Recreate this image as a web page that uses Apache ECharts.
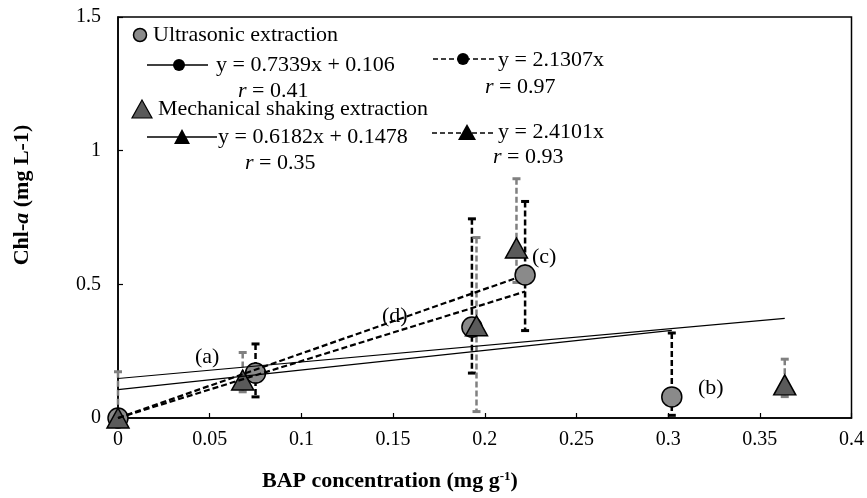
<!DOCTYPE html>
<html>
<head>
<meta charset="utf-8">
<script src="https://cdn.jsdelivr.net/npm/echarts@6/dist/echarts.min.js"></script>
<style>html,body{margin:0;padding:0;background:#fff}#c{width:867px;height:498px}</style>
</head>
<body>
<div id="c"></div>
<script>
// ---- data ----
const xTicks = [0, 0.05, 0.1, 0.15, 0.2, 0.25, 0.3, 0.35, 0.4];
const yTicks = [0, 0.5, 1, 1.5];

const ultraX  = [0, 0.075, 0.193, 0.222, 0.302];
const ultraY  = [0, 0.168, 0.340, 0.535, 0.079];
const ultraHi = [0, 0.277, 0.745, 0.810, 0.318];
const ultraLo = [0, 0.079, 0.168, 0.327, 0.010];

const mechX  = [0, 0.068, 0.1955, 0.2173, 0.3636];
const mechY  = [0, 0.142, 0.345, 0.636, 0.124];
const mechHi = [0.173, 0.245, 0.675, 0.895, 0.220];
const mechLo = [0, 0.098, 0.024, 0.507, 0.080];

// trend lines (endpoints)
const ultraLinX = [0, 0.302];   const ultraLinY = [0.106, 0.328];
const mechLinX  = [0, 0.3636];  const mechLinY  = [0.1478, 0.373];
const ultraPropX = [0, 0.222];  const ultraPropY = [0, 0.473];
const mechPropX  = [0, 0.2173]; const mechPropY  = [0, 0.524];

const FONT = "'Times New Roman', 'Liberation Serif', serif";
const zip = (a, b) => a.map((v, i) => [v, b[i]]);
const zip3 = (a, b, c) => a.map((v, i) => [v, b[i], c[i]]);

function errBar(color) {
  return function (params, api) {
    const x = api.value(0), lo = api.value(1), hi = api.value(2);
    if (hi === lo) return null;
    const pH = api.coord([x, hi]), pL = api.coord([x, lo]);
    return {
      type: 'group',
      children: [
        {type: 'line', shape: {x1: pH[0], y1: pH[1], x2: pL[0], y2: pL[1]},
         style: {stroke: color, lineWidth: 2.5, lineDash: [6, 3]}},
        {type: 'line', shape: {x1: pH[0] - 4, y1: pH[1], x2: pH[0] + 4, y2: pH[1]},
         style: {stroke: color, lineWidth: 3}},
        {type: 'line', shape: {x1: pL[0] - 4, y1: pL[1], x2: pL[0] + 4, y2: pL[1]},
         style: {stroke: color, lineWidth: 3}}
      ]
    };
  };
}

const chart = echarts.init(document.getElementById('c'), null, {renderer: 'canvas'});

const txt = (text, x, y, extra) => Object.assign({
  type: 'text', x: x, y: y, z: 100,
  style: Object.assign({text: text, font: '22px ' + FONT, fill: '#000', textVerticalAlign: 'middle',
    rich: {i: {fontStyle: 'italic', fontSize: 22, fontFamily: FONT}, n: {fontSize: 22, fontFamily: FONT}}}, extra || {})
});

const graphics = [
  // legend block
  {type: 'circle', z: 100, shape: {cx: 140, cy: 35, r: 6.5}, style: {fill: '#8a8a8a', stroke: '#000', lineWidth: 1.5}},
  txt('Ultrasonic extraction', 153, 35),
  {type: 'line', z: 100, shape: {x1: 147, y1: 65, x2: 208, y2: 65}, style: {stroke: '#000', lineWidth: 1.3}},
  {type: 'circle', z: 100, shape: {cx: 179, cy: 65, r: 6}, style: {fill: '#000'}},
  txt('y = 0.7339x + 0.106', 216, 65),
  txt('{i|r}{n| = 0.41}', 238, 91),
  {type: 'line', z: 100, shape: {x1: 433, y1: 59, x2: 496, y2: 59}, style: {stroke: '#000', lineWidth: 1.5, lineDash: [5, 3]}},
  {type: 'circle', z: 100, shape: {cx: 463, cy: 59, r: 6}, style: {fill: '#000'}},
  txt('y = 2.1307x', 498, 60),
  txt('{i|r}{n| = 0.97}', 485, 87),
  {type: 'polygon', z: 100, shape: {points: [[142, 100], [152, 118], [132, 118]]}, style: {fill: '#5a5a5a', stroke: '#000', lineWidth: 1.2}},
  txt('Mechanical shaking extraction', 158, 109),
  {type: 'line', z: 100, shape: {x1: 147, y1: 137, x2: 217, y2: 137}, style: {stroke: '#000', lineWidth: 1.3}},
  {type: 'polygon', z: 100, shape: {points: [[182, 129], [190, 144], [174, 144]]}, style: {fill: '#000'}},
  txt('y = 0.6182x + 0.1478', 218, 137),
  txt('{i|r}{n| = 0.35}', 245, 163),
  {type: 'line', z: 100, shape: {x1: 432, y1: 133, x2: 495, y2: 133}, style: {stroke: '#000', lineWidth: 1.5, lineDash: [5, 3]}},
  {type: 'polygon', z: 100, shape: {points: [[467, 124], [476, 140], [458, 140]]}, style: {fill: '#000'}},
  txt('y = 2.4101x', 498, 132),
  txt('{i|r}{n| = 0.93}', 493, 157),
  // point labels
  txt('(a)', 195, 357),
  txt('(b)', 698, 388),
  txt('(c)', 532, 257),
  txt('(d)', 382, 316),
  // axis titles
  {type: 'text', z: 100, x: 22, y: 195, rotation: Math.PI / 2,
   style: {text: 'Chl-{ib|a} (mg L-1)', font: 'bold 22px ' + FONT, fill: '#000', textAlign: 'center', textVerticalAlign: 'middle',
     rich: {ib: {fontStyle: 'italic', fontWeight: 'bold', fontSize: 22, fontFamily: FONT}}}},
  {type: 'text', z: 100, x: 262, y: 481,
   style: {text: 'BAP concentration (mg g{sup|-1})', font: 'bold 22px ' + FONT, fill: '#000', textAlign: 'left', textVerticalAlign: 'middle',
     rich: {sup: {fontWeight: 'bold', fontSize: 13, fontFamily: FONT, verticalAlign: 'top', padding: [0, 0, 9, 0]}}}}
];

chart.setOption({
  animation: false,
  backgroundColor: '#fff',
  grid: {left: 118, right: 15, top: 17, bottom: 80, show: true, borderColor: '#000', borderWidth: 1.5},
  xAxis: {
    type: 'value', min: xTicks[0], max: xTicks[xTicks.length - 1], interval: 0.05,
    axisLine: {show: true, lineStyle: {color: '#000', width: 1.5}},
    axisTick: {show: true, inside: true, length: 5, lineStyle: {color: '#000', width: 1.2}},
    axisLabel: {color: '#000', fontFamily: FONT, fontSize: 20, margin: 12},
    splitLine: {show: false}
  },
  yAxis: {
    type: 'value', min: yTicks[0], max: yTicks[yTicks.length - 1], interval: 0.5,
    axisLine: {show: true, lineStyle: {color: '#000', width: 1.5}},
    axisTick: {show: true, inside: true, length: 5, lineStyle: {color: '#000', width: 1.2}},
    axisLabel: {color: '#000', fontFamily: FONT, fontSize: 20, margin: 17},
    splitLine: {show: false}
  },
  graphic: graphics,
  series: [
    {type: 'custom', name: 'ultraErr', renderItem: errBar('#000'), data: zip3(ultraX, ultraLo, ultraHi), clip: false, z: 3,
     encode: {x: 0, y: [1, 2]}},
    {type: 'custom', name: 'mechErr', renderItem: errBar('#808080'), data: zip3(mechX, mechLo, mechHi), clip: false, z: 3,
     encode: {x: 0, y: [1, 2]}},
    {type: 'scatter', name: 'Ultrasonic extraction', data: zip(ultraX, ultraY), symbol: 'circle', symbolSize: 20, z: 4,
     itemStyle: {color: '#8a8a8a', borderColor: '#000', borderWidth: 1.5, opacity: 1}, clip: false},
    {type: 'scatter', name: 'Mechanical shaking extraction', data: zip(mechX, mechY), symbol: 'triangle', symbolSize: [22, 20], z: 5,
     itemStyle: {color: '#5a5a5a', borderColor: '#000', borderWidth: 1.5, opacity: 1}, clip: false},
    {type: 'line', data: zip(ultraLinX, ultraLinY), symbol: 'none', z: 6, lineStyle: {color: '#000', width: 1.2}},
    {type: 'line', data: zip(mechLinX, mechLinY), symbol: 'none', z: 6, lineStyle: {color: '#000', width: 1.2}},
    {type: 'line', data: zip(ultraPropX, ultraPropY), symbol: 'none', z: 6, lineStyle: {color: '#000', width: 2.2, type: [6, 3]}},
    {type: 'line', data: zip(mechPropX, mechPropY), symbol: 'none', z: 6, lineStyle: {color: '#000', width: 2.2, type: [6, 3]}}
  ]
});
</script>
</body>
</html>
